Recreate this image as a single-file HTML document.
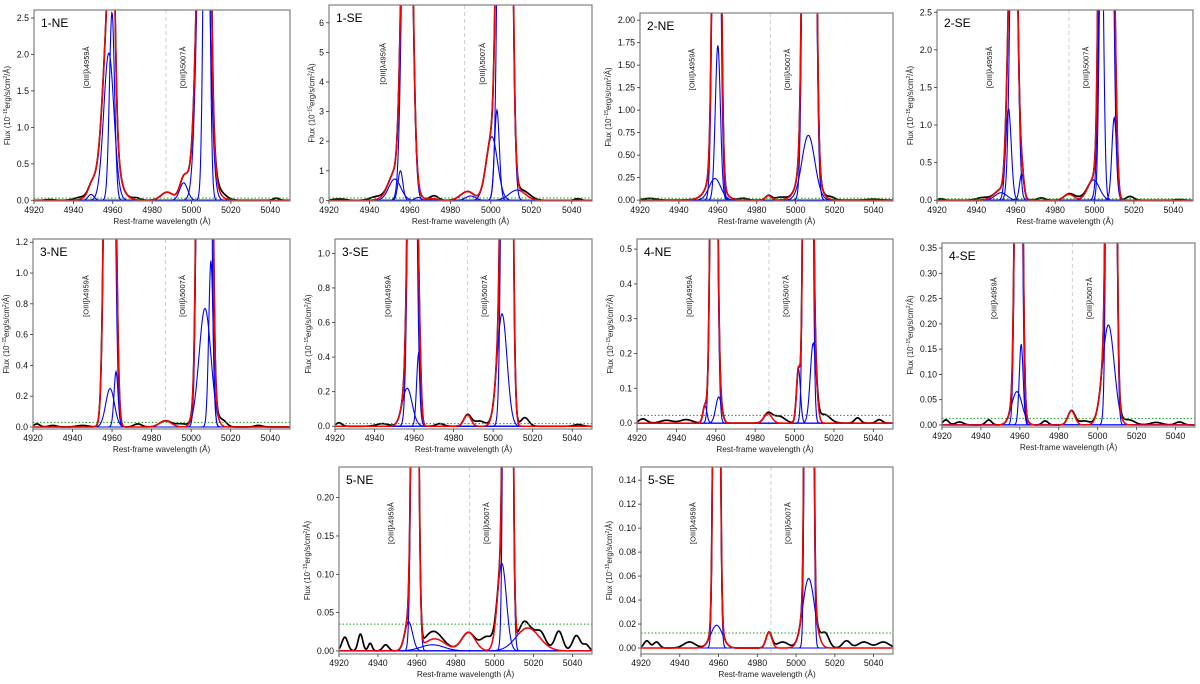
<!DOCTYPE html>
<html><head><meta charset="utf-8">
<style>
html,body{margin:0;padding:0;background:#fff;}
svg{display:block;font-family:"Liberation Sans","DejaVu Sans",sans-serif;}
</style></head>
<body>
<svg id="fig" width="1200" height="684" viewBox="0 0 1200 684" xmlns="http://www.w3.org/2000/svg"></svg>
<script>
// ---------- data ----------
const panelNames = ["1-NE","1-SE","2-NE","2-SE","3-NE","3-SE","4-NE","4-SE","5-NE","5-SE"];
const yMaxs = [2.61,6.6,2.08,2.53,1.221,1.083,0.529,0.36,0.24,0.151];
const yMins = [-0.01,-0.02,-0.01,-0.01,-0.013,-0.016,-0.017,-0.004,-0.004,-0.005];
const yTickLabels = [
 ["0.0","0.5","1.0","1.5","2.0","2.5"],
 ["0","1","2","3","4","5","6"],
 ["0.00","0.25","0.50","0.75","1.00","1.25","1.50","1.75","2.00"],
 ["0.0","0.5","1.0","1.5","2.0","2.5"],
 ["0.0","0.2","0.4","0.6","0.8","1.0","1.2"],
 ["0.0","0.2","0.4","0.6","0.8","1.0"],
 ["0.0","0.1","0.2","0.3","0.4","0.5"],
 ["0.00","0.05","0.10","0.15","0.20","0.25","0.30","0.35"],
 ["0.00","0.05","0.10","0.15","0.20"],
 ["0.00","0.02","0.04","0.06","0.08","0.10","0.12","0.14"]
];
const xTickLabels = ["4920","4940","4960","4980","5000","5020","5040"];
const xRange = [4920,5050];
const markerWave = 4987;
const lineLabelWaves = [4948,4997];
const lineLabels = ["[OIII]\u03bb4959\u00c5","[OIII]\u03bb5007\u00c5"];
const continuum = [0.03,0.08,0.02,0.02,0.03,0.015,0.022,0.013,0.035,0.0125];
// blue gaussian components [center, amplitude, sigma]
const blueComps = [
 [[4958,2.02,2.6],[4959.6,2.58,1.3],[4949,0.08,1.5],[5006,6.1,2.6],[5007.6,7.7,1.3],[4996,0.24,2.0]],
 [[4952.5,0.72,3],[4955.3,1.0,1.2],[4958.7,20,2.0],[4964,0.1,1.5],[5000.5,2.15,2.8],[5003,3.05,1.2],[5007,60,2.0],[5013,0.35,4],[4990,0.15,2.5]],
 [[4958.5,0.24,3],[4960,1.72,1.3],[4959.3,8,1.5],[5006.5,0.72,3.3],[5007,25,1.8]],
 [[4952.5,0.1,3],[4956.3,1.22,1.4],[4963,0.35,1.1],[4959,6,1.6],[4999.5,0.27,3],[5003.5,4,1.1],[5006,18,2],[5010,1.1,1.2]],
 [[4959,0.25,2.2],[4962,0.36,1.0],[4958.7,6,1.8],[5007,0.77,3],[5010,1.08,1.1],[5006.5,18,1.8]],
 [[4956.5,0.22,2.5],[4962.3,0.42,1.0],[4959.1,4,1.6],[5004.5,0.65,2.5],[5007,10,1.6]],
 [[4954.5,0.05,1.0],[4961.5,0.075,1.5],[4959,2,1.3],[5002,0.155,1.0],[5009.5,0.23,1.5],[5006.8,6,1.3]],
 [[4958.5,0.066,2.7],[4960.7,0.16,1.0],[4959.3,1.5,1.3],[5005.5,0.198,3],[5007,4,1.4]],
 [[4955.8,0.038,2],[4959,1,1.3],[4968,0.008,6],[5003.7,0.114,2.3],[5006.8,3,1.3],[5017,0.03,6]],
 [[4959,0.019,3],[4959,1,1.1],[5006.5,0.058,3],[5006.7,3,1.1]]
];
// red-only terms of the total fit
const redExtra = [
 [[4987.5,0.11,3],[4957,0.6,5],[5005,0.5,5]],
 [[4987,0.2,3],[4972,0.05,2],[4956,0.3,6]],
 [[4986,0.05,1.5],[4958,0.1,5],[5006,0.15,5]],
 [[4987,0.08,2.5],[4955,0.05,6]],
 [[4987,0.04,3]],
 [[4987,0.065,1.8]],
 [[4986.5,0.027,2]],
 [[4986.5,0.028,1.8]],
 [[4970,0.008,5],[4986.5,0.024,3.5]],
 [[4986,0.013,1.5]]
];
// black data = fit + residual features
const residuals = [
 [[4943,0.03,3],[4972,0.03,2],[5015,0.06,3],[5043,0.03,1.5],[4928,0.01,2]],
 [[4943,0.1,3],[4972,0.1,2],[5018,0.1,3],[5043,0.06,1.5],[4925,0.05,3]],
 [[4925,0.02,3],[4973,0.02,2],[4992,0.03,3],[5018,0.03,2],[5040,0.01,3]],
 [[4922,0.02,1.5],[4943,0.03,3],[4973,0.03,2],[4992,0.03,3],[5018,0.05,2],[5043,0.01,2]],
 [[4922,0.02,1.5],[4930,0.01,2],[4945,0.01,3],[4973,0.02,2],[4995,0.02,3],[5016,0.04,2],[5034,0.01,2]],
 [[4922,0.02,1.5],[4944,0.015,3],[4973,0.015,2],[4993,0.03,3],[5016,0.05,2],[5043,0.01,2]],
 [[4923,0.012,2],[4935,0.008,3],[4945,0.01,3],[4992,0.02,3],[5015,0.025,3],[5032,0.015,1.5],[5043,0.01,1.5]],
 [[4922,0.01,1.5],[4929,0.006,2],[4944,0.01,1.5],[4973,0.008,1.5],[4993,0.008,3],[5016,0.01,3],[5030,0.005,3],[5042,0.006,2]],
 [[4923,0.018,1.5],[4931,0.022,1.2],[4936,0.01,1],[4944,0.008,1.5],[4968,0.01,4],[4996,0.018,3],[5015,0.01,2],[5024,0.01,2],[5033,0.025,2],[5042,0.02,2],[5047,0.008,1.5]],
 [[4923,0.006,1.5],[4928,0.005,1.5],[4945,0.005,3],[4993,0.005,3],[5015,0.012,2],[5026,0.006,2],[5035,0.005,3],[5045,0.005,3]]
];
// ---------- layout ----------
const frames = [[34,10,290,201],[329,5,592,201],[640,13,893,201],[937,10,1193,201],
 [33,239,290,429],[335,239,592,429],[637,239,893,429],[942,243,1195,427],
 [339,467,592,654],[641,467,893,654]];

const NS="http://www.w3.org/2000/svg";
const svg=document.getElementById('fig');
function mk(tag,attrs,parent){const e=document.createElementNS(NS,tag);for(const k in attrs)e.setAttribute(k,attrs[k]);(parent||svg).appendChild(e);return e;}
function gauss(x,c){return c[1]*Math.exp(-(x-c[0])*(x-c[0])/(2*c[2]*c[2]));}

panelNames.forEach((name,i)=>{
 const [x0,y0,x1,y1]=frames[i];
 const ymin=yMins[i], ymax=yMaxs[i];
 const sx=w=>x0+(w-xRange[0])/(xRange[1]-xRange[0])*(x1-x0);
 const sy=v=>y1-(v-ymin)/(ymax-ymin)*(y1-y0);
 const g=mk('g',{});
 
 
 const cid='clip'+i;
 const cp=mk('clipPath',{id:cid},g); mk('rect',{x:x0,y:y0,width:x1-x0,height:y1-y0},cp);
 const plot=mk('g',{'clip-path':'url(#'+cid+')'},g);
 const ml=mk('line',{x1:sx(markerWave),x2:sx(markerWave),y1:y0,y2:y1,stroke:'#cfcfcf','stroke-width':1,'stroke-dasharray':'4,3'},plot);
 
 
 const xs=[];for(let w=xRange[0];w<=xRange[1];w+=0.25)xs.push(w);
 const fit=xs.map(w=>{let s=0;blueComps[i].forEach(c=>s+=gauss(w,c));redExtra[i].forEach(c=>s+=gauss(w,c));return s;});
 const data=xs.map((w,k)=>{let s=fit[k];residuals[i].forEach(c=>s+=gauss(w,c));return s;});
 const path=arr=>arr.map((v,k)=>(k?'L':'M')+sx(xs[k]).toFixed(2)+','+Math.max(y0-50,sy(v)).toFixed(2)).join('');
 const bl=mk('path',{d:path(data),fill:'none',stroke:'#000','stroke-width':1.7},plot);
 
 
 const cl=mk('line',{x1:x0,x2:x1,y1:sy(continuum[i]),y2:sy(continuum[i]),stroke:'#1a9a1a','stroke-width':1,'stroke-dasharray':'1.5,2'},plot);
 
 
 blueComps[i].forEach((c,j)=>{
  const ys=xs.map(w=>gauss(w,c));
  const p=mk('path',{d:path(ys),fill:'none',stroke:'#0000ff','stroke-width':1.1},plot);
  
  
 });
 const rp=mk('path',{d:path(fit),fill:'none',stroke:'#ff0000','stroke-width':1.5},plot);
 
 
 const fr=mk('rect',{x:x0,y:y0,width:x1-x0,height:y1-y0,fill:'none',stroke:'#808080','stroke-width':1.2},g);
 
 
 xTickLabels.forEach(t=>{
  const X=sx(+t);
  mk('line',{x1:X,x2:X,y1:y1,y2:y1+3,stroke:'#333','stroke-width':0.8},g);
  const tx=mk('text',{x:X,y:y1+12,'font-size':8.8,'text-anchor':'middle',fill:'#111'},g);
  tx.textContent=t;
  
  
 });
 const xl=mk('text',{x:(x0+x1)/2,y:y1+23,'font-size':8.2,'text-anchor':'middle',fill:'#222'},g);
 xl.textContent='Rest-frame wavelength (\u00c5)';
 
 
 let maxLen=0;
 yTickLabels[i].forEach(t=>{
  const Y=sy(+t); maxLen=Math.max(maxLen,t.length);
  mk('line',{x1:x0-3,x2:x0,y1:Y,y2:Y,stroke:'#333','stroke-width':0.8},g);
  const ty=mk('text',{x:x0-5,y:Y+3,'font-size':8.8,'text-anchor':'end',fill:'#111'},g);
  ty.textContent=t;
  
  
 });
 const lx=x0-10-maxLen*4.7, ly=(y0+y1)/2;
 const yl=mk('text',{x:lx,y:ly,'font-size':7.8,'text-anchor':'middle',fill:'#222',transform:'rotate(-90 '+lx+' '+ly+')'},g);
 yl.innerHTML='Flux (10<tspan baseline-shift="super" font-size="5">\u221215</tspan>erg/s/cm<tspan baseline-shift="super" font-size="5">2</tspan>/\u00c5)';
 
 
 const pt=mk('text',{x:x0+7,y:y0+17,'font-size':12,fill:'#000'},g);
 pt.textContent=name;
 
 
 lineLabelWaves.forEach((w,j)=>{
  const X=sx(w), Y=y1-0.7*(y1-y0);
  const lt=mk('text',{x:X,y:Y,'font-size':7.5,'text-anchor':'middle',fill:'#111',transform:'rotate(-90 '+X+' '+Y+')'},g);
  lt.textContent=lineLabels[j];
  
  
 });
});
</script>
</body></html>
